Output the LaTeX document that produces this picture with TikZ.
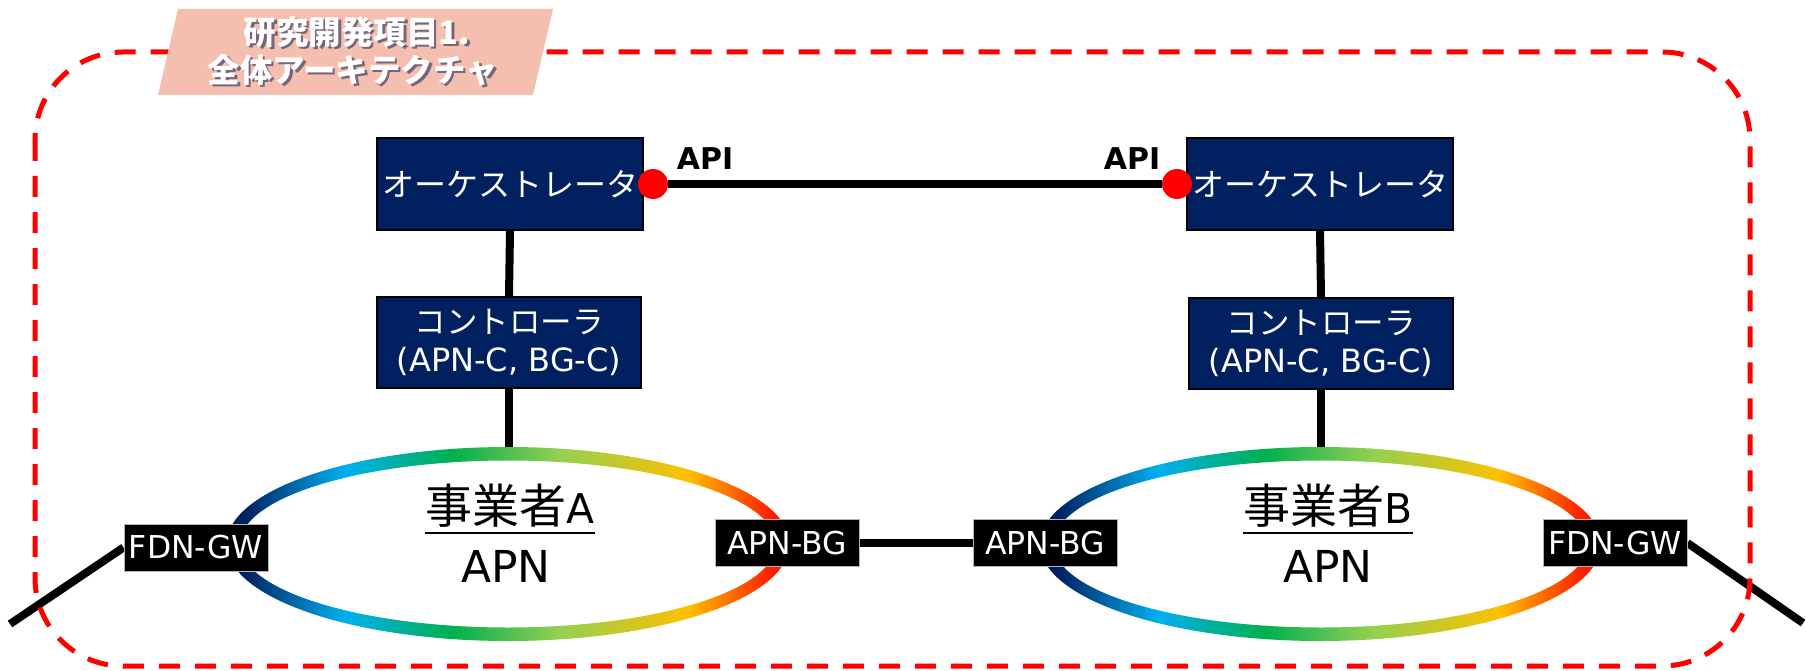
\documentclass[tikz,border=0pt]{standalone}
\usepackage{fontspec}
\setmainfont{DejaVu Sans}
\newfontfamily\jp{Noto Sans CJK JP}
\definecolor{navy}{HTML}{002060}
\definecolor{salmon}{HTML}{F4BFAE}
\definecolor{rnavy}{HTML}{002060}
\definecolor{rcyan}{HTML}{00B0F0}
\definecolor{rgreen}{HTML}{00B050}
\definecolor{rlgreen}{HTML}{92D050}
\definecolor{ryellow}{HTML}{FFC000}
\definecolor{rred}{HTML}{FF1A00}
\definecolor{shadowc}{HTML}{1F2D5A}
\pgfdeclarehorizontalshading{ringgrad}{100bp}{color(0bp)=(rnavy); color(25bp)=(rnavy); color(26.5bp)=(rnavy); color(35.5bp)=(rcyan); color(45bp)=(rgreen); color(54.5bp)=(rlgreen); color(66bp)=(ryellow); color(73.5bp)=(rred); color(75bp)=(rred); color(100bp)=(rred)}
\pgfdeclarelayer{bg}
\pgfsetlayers{bg,main}
\begin{document}
\begin{tikzpicture}[x=1pt,y=-1pt,
  frame/.style={draw=red, line width=5pt, dash pattern=on 21pt off 15pt, rounded corners=88pt},
  titletxt/.style={font=\jp\bfseries\fontsize{32.5}{36}\selectfont, inner sep=0pt},
  orch/.style={draw=black, line width=1.5pt, fill=navy, text=white, font=\jp\fontsize{32}{38}\selectfont, minimum width=266pt, minimum height=92pt, inner sep=0pt, align=center},
  ctrl/.style={draw=black, line width=1.5pt, fill=navy, text=white, font=\fontsize{32}{38}\selectfont, minimum width=264pt, minimum height=91pt, inner sep=0pt, align=center},
  gw/.style={fill=black, draw=gray!60, line width=1pt, text=white, font=\fontsize{31.5}{36}\selectfont, minimum width=144pt, minimum height=47pt, inner sep=0pt},
  conn/.style={line width=8pt, draw=black},
  reddot/.style={circle, fill=red, minimum size=30pt, inner sep=0pt},
  apilab/.style={font=\bfseries\fontsize{30}{32}\selectfont, inner sep=0pt, anchor=base},
  ring/.style={shading=ringgrad, even odd rule},
  apntxt/.style={anchor=base, inner sep=0pt}
]
\useasboundingbox (0,0) rectangle (1806,671);
\begin{pgfonlayer}{bg}
\fill[white] (0,0) rectangle (1806,671);
\end{pgfonlayer}
% frame
\draw[frame] (35,52) rectangle (1750,666);
% title
\fill[salmon] (178,9) -- (553,9) -- (533,95) -- (158,95) -- cycle;
\node[titletxt, text=shadowc, opacity=0.6] at (359.5,34.5) {研究開発項目1.};
\node[titletxt, text=white] (t1) at (357,32) {研究開発項目1.};
\node[titletxt, text=shadowc, opacity=0.6] at (355.5,72.5) {全体アーキテクチャ};
\node[titletxt, text=white] (t2) at (353,70) {全体アーキテクチャ};
% rings
\shade[ring] (508,544) ellipse [x radius=281.5pt, y radius=97pt] (508,544) ellipse [x radius=268pt, y radius=83.5pt];
\shade[ring] (1320.5,544) ellipse [x radius=280.5pt, y radius=97pt] (1320.5,544) ellipse [x radius=267pt, y radius=83.5pt];
% boxes
\node[orch] (oA) at (510,184) {オーケストレータ};
\node[orch] (oB) at (1320,184) {オーケストレータ};
\node[ctrl] (cA) at (509,342.5) {{\jp\fontsize{31.5}{38}\selectfont コントローラ}\\(APN-C, BG-C)};
\node[ctrl] (cB) at (1321,343.5) {{\jp\fontsize{31.5}{38}\selectfont コントローラ}\\(APN-C, BG-C)};
\node[gw] (fA) at (196,547.5) {FDN-GW};
\node[gw] (bA) at (787,543) {APN-BG};
\node[gw] (bB) at (1045,543) {APN-BG};
\node[gw] (fB) at (1615,543) {FDN-GW};
\node[reddot] (dA) at (653,184) {};
\node[reddot] (dB) at (1177,184) {};
\node[apilab] (apiA) at (705,170) {API};
\node[apilab] (apiB) at (1132,170) {API};
\coordinate (rAtop) at (509,452);
\coordinate (rBtop) at (1321,452);
\coordinate (extL) at (10,624);
\coordinate (extR) at (1803,623);
% connectors
\begin{pgfonlayer}{bg}
\draw[conn] (dA) -- (dB);
\draw[conn] (oA.south) -- (cA.north);
\draw[conn] (oB.south) -- (cB.north);
\draw[conn] (cA.south) -- (rAtop);
\draw[conn] (cB.south) -- (rBtop);
\draw[conn] (bA.east) -- (bB.west);
\draw[conn] (fA.west) -- (extL);
\draw[conn] (fB.east) -- (extR);
\end{pgfonlayer}
% APN texts
\node[apntxt] (nA) at (510,523) {{\jp\fontsize{47}{50}\selectfont 事業者}{\fontsize{41}{44}\selectfont A}};
\draw[line width=2pt] ([yshift=-10pt]nA.base west) -- ([yshift=-10pt]nA.base east);
\node[apntxt, font=\fontsize{44}{48}\selectfont] (pA) at (506,582) {APN};
\node[apntxt] (nB) at (1328,523) {{\jp\fontsize{47}{50}\selectfont 事業者}{\fontsize{41}{44}\selectfont B}};
\draw[line width=2pt] ([yshift=-10pt]nB.base west) -- ([yshift=-10pt]nB.base east);
\node[apntxt, font=\fontsize{44}{48}\selectfont] (pB) at (1328,582) {APN};
\end{tikzpicture}
\end{document}
